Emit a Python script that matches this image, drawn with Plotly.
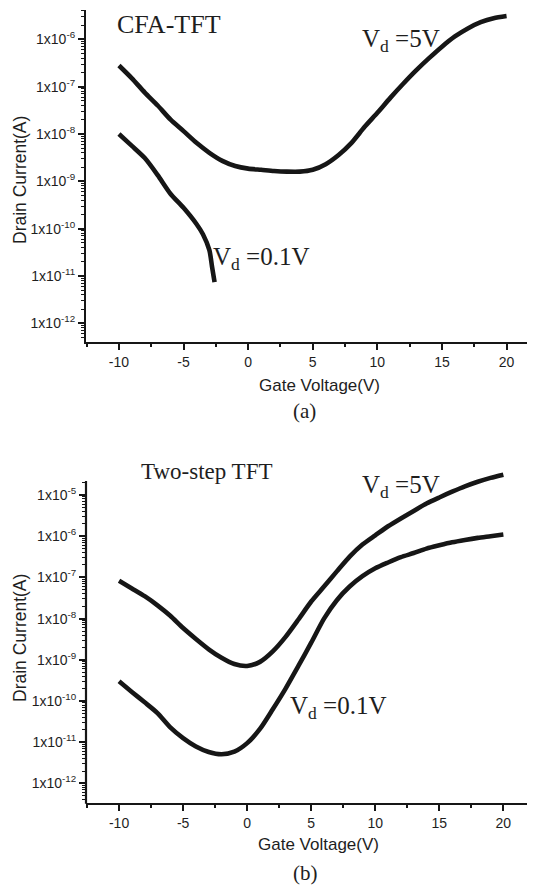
import plotly.graph_objects as go

# ---------------- data ----------------
# (a) CFA-TFT
vg_a_5 = [-10, -9, -8, -7, -6, -5, -4, -3, -2, -1, 0, 1, 2, 3, 4, 5, 6, 7, 8, 9, 10,
          11, 12, 13, 14, 15, 16, 17, 18, 19, 20]
id_a_5 = [2.8e-7, 1.5e-7, 7.5e-8, 4.0e-8, 2.0e-8, 1.15e-8, 6.5e-9, 4.0e-9, 2.7e-9, 2.1e-9,
          1.85e-9, 1.75e-9, 1.65e-9, 1.6e-9, 1.6e-9, 1.75e-9, 2.3e-9, 3.6e-9, 6.5e-9, 1.4e-8,
          2.8e-8, 5.8e-8, 1.15e-7, 2.2e-7, 4.0e-7, 7.0e-7, 1.15e-6, 1.7e-6, 2.3e-6, 2.8e-6, 3.1e-6]
vg_a_01 = [-10, -9, -8, -7, -6, -5, -4, -3.5, -3.0, -2.8, -2.6]
id_a_01 = [1.0e-8, 5.6e-9, 3.1e-9, 1.35e-9, 5.4e-10, 2.75e-10, 1.25e-10, 7.6e-11, 3.5e-11,
           1.6e-11, 7.4e-12]

# (b) Two-step TFT
vg_b = [-10, -9, -8, -7, -6, -5, -4, -3, -2, -1, 0, 1, 2, 3, 4, 5, 6, 7, 8, 9, 10,
        11, 12, 13, 14, 15, 16, 17, 18, 19, 20]
id_b_5 = [8.3e-8, 5.4e-8, 3.5e-8, 2.1e-8, 1.17e-8, 5.9e-9, 3.2e-9, 1.8e-9, 1.12e-9, 7.9e-10,
          7.1e-10, 8.9e-10, 1.6e-9, 3.6e-9, 9.5e-9, 2.6e-8, 6.0e-8, 1.4e-7, 3.2e-7, 6.3e-7,
          1.05e-6, 1.74e-6, 2.7e-6, 4.1e-6, 6.2e-6, 8.7e-6, 1.2e-5, 1.62e-5, 2.1e-5, 2.6e-5, 3.1e-5]
id_b_01 = [3.0e-10, 1.66e-10, 9.3e-11, 5.1e-11, 2.3e-11, 1.26e-11, 7.9e-12, 5.8e-12, 5.1e-12,
           5.9e-12, 9.5e-12, 2.1e-11, 6.3e-11, 2.0e-10, 7.1e-10, 2.6e-9, 1.0e-8, 2.8e-8, 6.0e-8,
           1.07e-7, 1.66e-7, 2.3e-7, 3.1e-7, 3.9e-7, 5.0e-7, 6.0e-7, 7.1e-7, 8.1e-7, 9.1e-7,
           1.0e-6, 1.1e-6]

x_ticks = [-10, -5, 0, 5, 10, 15, 20]
y_exps_a = [-12, -11, -10, -9, -8, -7, -6]
y_exps_b = [-12, -11, -10, -9, -8, -7, -6, -5]

# ---------------- layout helpers ----------------
# the page body has an 8px margin, so the figure is drawn at (8, 8) in the window
OFF = 8
W, H = 535 - OFF, 888 - OFF


def px(x):
    return (x - OFF) / W


def py(y):
    return 1 - (y - OFF) / H


LINE = "#161616"
TXT = "#1e1e1e"
SANS = "Liberation Sans, Arial, sans-serif"
SERIF = "Liberation Serif, Times New Roman, serif"

fig = go.Figure()
curve = dict(color=LINE, width=4.6, shape="spline", smoothing=0.7)
fig.add_trace(go.Scatter(x=vg_a_5, y=id_a_5, mode="lines", line=curve, xaxis="x", yaxis="y"))
fig.add_trace(go.Scatter(x=vg_a_01, y=id_a_01, mode="lines", line=curve, xaxis="x", yaxis="y"))
fig.add_trace(go.Scatter(x=vg_b, y=id_b_5, mode="lines", line=curve, xaxis="x2", yaxis="y2"))
fig.add_trace(go.Scatter(x=vg_b, y=id_b_01, mode="lines", line=curve, xaxis="x2", yaxis="y2"))


def xaxis_cfg(anchor, rng):
    return dict(
        domain=[px(86), 1], anchor=anchor, range=rng, automargin=False,
        showline=True, linewidth=2.2, linecolor=LINE, mirror=False,
        showgrid=False, zeroline=False,
        ticks="outside", ticklen=6, tickwidth=2, tickcolor=LINE,
        tickmode="array", tickvals=x_ticks, ticktext=[str(v) for v in x_ticks],
        tickfont=dict(family=SANS, size=14, color=TXT),
        minor=dict(ticks="outside", ticklen=3.5, tickwidth=1.6, tickcolor=LINE,
                   tickmode="linear", tick0=-12.5, dtick=2.5, showgrid=False),
    )


def yaxis_cfg(anchor, dom, rng, exps, top_minor, showline=True):
    minor_vals = [m * 10 ** e for e in range(exps[0] - 1, exps[-1] + 1) for m in range(2, 10)
                  if m * 10 ** e <= top_minor]
    return dict(
        domain=dom, anchor=anchor, type="log", range=rng, automargin=False,
        showline=showline, linewidth=2.2, linecolor=LINE,
        showgrid=False, zeroline=False,
        ticks="outside", ticklen=6, tickwidth=2, tickcolor=LINE,
        tickmode="array", tickvals=[10.0 ** e for e in exps],
        ticktext=["1x10<sup>%d</sup>" % e for e in exps],
        tickfont=dict(family=SANS, size=14, color=TXT),
        minor=dict(ticks="outside", ticklen=3.2, tickwidth=1.4, tickcolor=LINE,
                   tickmode="array", tickvals=minor_vals, showgrid=False),
    )


fig.update_layout(
    width=W, height=H,
    margin=dict(l=0, r=0, t=0, b=0, pad=0),
    paper_bgcolor="white", plot_bgcolor="white",
    showlegend=False,
    xaxis=xaxis_cfg("y", [-12.55, 22.2]),
    yaxis=yaxis_cfg("x", [py(341.7), py(10)], [-12.39, -5.38], y_exps_a, 4e-6),
    xaxis2=xaxis_cfg("y2", [-12.58, 22.47]),
    # the upper curve runs a little above the top of the drawn axis, as in the original
    yaxis2=yaxis_cfg("x2", [py(802.7), py(468)], [-12.468, -4.345], y_exps_b, 2e-5,
                     showline=False),
)

# visible left axis line of panel (b), ending at its top
fig.add_shape(type="line", xref="paper", yref="paper",
              x0=px(86), x1=px(86), y0=py(803.8), y1=py(481),
              line=dict(color=LINE, width=2.2))


def note(text, x, y, size, family=SERIF, xanchor="left", angle=0):
    fig.add_annotation(text=text, x=px(x), y=py(y), xref="paper", yref="paper",
                       xanchor=xanchor, yanchor="middle", showarrow=False,
                       textangle=angle, font=dict(family=family, size=size, color=TXT))


# panel (a)
note("CFA-TFT", 115, 25, 26)
note("V<sub>d</sub> =5V", 360, 40, 25)
note("V<sub>d</sub> =0.1V", 211, 259, 25)
note("Gate Voltage(V)", 319, 385, 17, family=SANS, xanchor="center")
note("Drain Current(A)", 20, 180, 17.5, family=SANS, xanchor="center", angle=-90)
note("(a)", 304, 411, 21, xanchor="center")

# panel (b)
note("Two-step TFT", 139, 472, 23)
note("V<sub>d</sub> =5V", 360, 486, 25)
note("V<sub>d</sub> =0.1V", 288, 707, 25)
note("Gate Voltage(V)", 318, 844, 17, family=SANS, xanchor="center")
note("Drain Current(A)", 20, 638, 17.5, family=SANS, xanchor="center", angle=-90)
note("(b)", 305, 873, 21, xanchor="center")

fig.write_html("out.html")
